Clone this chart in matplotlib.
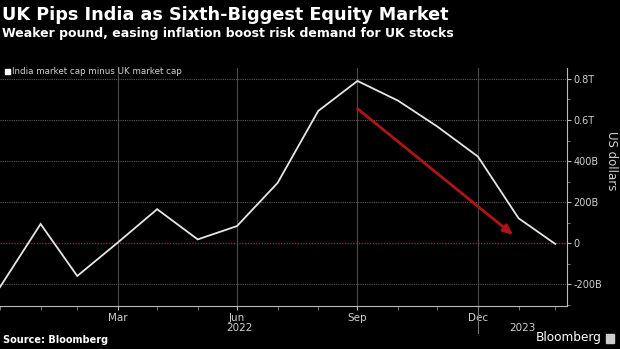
import matplotlib
matplotlib.use("Agg")
import matplotlib.pyplot as plt
import matplotlib.dates as mdates
import pandas as pd
import numpy as np
from matplotlib.ticker import FixedLocator, MultipleLocator, FuncFormatter

# ---- data ----
dates = pd.date_range("2021-12-31", periods=15, freq="ME")
diff_b = [-213, 94, -159, 4, 166, 19, 84, 294, 644, 790, 694, 568, 422, 122, -3]  # US$ billions
month_ticks = pd.to_datetime(["2022-03-31", "2022-06-30", "2022-09-30", "2022-12-31"])
month_labels = ["Mar", "Jun", "Sep", "Dec"]
y_ticks = [-200, 0, 200, 400, 600, 800]
y_labels = ["-200B", "0", "200B", "400B", "0.6T", "0.8T"]
arrow_start = (pd.Timestamp("2022-09-30"), 655)
arrow_end = (pd.Timestamp("2023-01-27"), 40)

BG = "#000000"
GRID = "#4a4a4a"
TXT = "#d0d0d0"
narrow = ["Liberation Sans Narrow", "DejaVu Sans"]

fig = plt.figure(figsize=(6.2, 3.49), dpi=100, facecolor=BG)
ax = fig.add_axes([0.0, 1 - 306 / 349, 567 / 620, (306 - 68) / 349])
ax.set_facecolor(BG)

ax.plot(dates, diff_b, color="#e6e6e6", lw=1.3, zorder=3, solid_joinstyle="miter")

ax.set_xlim(pd.Timestamp("2021-12-31"), pd.Timestamp("2023-03-09"))
ax.set_ylim(-305, 853)

# grid
for t in month_ticks:
    ax.axvline(t, color=GRID, lw=0.8, zorder=1)
for v in y_ticks:
    if v != 0:
        ax.axhline(v, color="#5a5a5a", lw=0.8, ls=(0, (1, 1)), zorder=1)
ax.axhline(0, color="#8a2a35", lw=1.0, ls=(0, (1, 1)), zorder=2)

# red arrow
ax.annotate("", xy=arrow_end, xytext=arrow_start,
            arrowprops=dict(arrowstyle="-|>,head_length=0.6,head_width=0.25",
                            color="#b01515", lw=2.0, shrinkA=0, shrinkB=0), zorder=4)

# spines
for s in ["top", "left"]:
    ax.spines[s].set_visible(False)
ax.spines["bottom"].set_color("#bbbbbb")
ax.spines["right"].set_color("#bbbbbb")
ax.spines["bottom"].set_linewidth(0.8)
ax.spines["right"].set_linewidth(0.8)

# y axis on right
ax.yaxis.tick_right()
ax.yaxis.set_major_locator(FixedLocator(y_ticks))
ax.yaxis.set_major_formatter(FuncFormatter(lambda v, p: y_labels[y_ticks.index(int(round(v)))] if int(round(v)) in y_ticks else ""))
ax.yaxis.set_minor_locator(MultipleLocator(100))
ax.tick_params(axis="y", which="major", length=3, width=0.8, colors="#bbbbbb", labelcolor=TXT, labelsize=7, pad=1.5)
ax.tick_params(axis="y", which="minor", length=2, width=0.6, colors="#888888")
for lab in ax.get_yticklabels():
    lab.set_family(narrow)
fig.text(611 / 620, 1 - 161 / 349, "US dollars", color=TXT, fontsize=8.5, rotation=270,
         family=narrow, ha="center", va="center")

# x axis
ax.xaxis.set_major_locator(FixedLocator(mdates.date2num(month_ticks)))
ax.xaxis.set_major_formatter(FuncFormatter(lambda v, p: month_labels[p] if p is not None and p < len(month_labels) else ""))
ax.xaxis.set_minor_locator(FixedLocator(mdates.date2num(dates)))
ax.tick_params(axis="x", which="major", length=3, width=0.8, colors="#bbbbbb", labelcolor=TXT, labelsize=7.5, pad=2)
ax.tick_params(axis="x", which="minor", length=3, width=0.6, colors="#888888")
for lab in ax.get_xticklabels():
    lab.set_family(narrow)

# year labels & divider
trans = ax.get_xaxis_transform()
x0 = mdates.date2num(pd.Timestamp("2021-12-31"))
xdiv = mdates.date2num(pd.Timestamp("2022-12-31"))
xend = mdates.date2num(pd.Timestamp("2023-03-09"))
ax.plot([xdiv, xdiv], [0, -27 / 238], transform=trans, color="#777777", lw=0.8, clip_on=False)
ax.text((x0 + xdiv) / 2, -22 / 238, "2022", transform=trans, ha="center", va="center",
        color=TXT, fontsize=7.5, family=narrow)
ax.text((xdiv + xend) / 2, -22 / 238, "2023", transform=trans, ha="center", va="center",
        color=TXT, fontsize=7.5, family=narrow)

# titles
fig.text(2 / 620, 1 - 15 / 349, "UK Pips India as Sixth-Biggest Equity Market", color="white",
         fontsize=12.7, fontweight="bold", ha="left", va="center")
fig.text(2 / 620, 1 - 34 / 349, "Weaker pound, easing inflation boost risk demand for UK stocks",
         color="white", fontsize=9.0, fontweight="bold", ha="left", va="center")
# legend
fig.patches.append(plt.Rectangle((5 / 620, 1 - 73.5 / 349), 5 / 620, 5 / 349, transform=fig.transFigure,
                                 color="white", figure=fig))
fig.text(12.5 / 620, 1 - 71 / 349, "India market cap minus UK market cap", color=TXT,
         fontsize=6.3, ha="left", va="center", family=narrow)
# footer
fig.text(3 / 620, 1 - 340 / 349, "Source: Bloomberg", color="white", fontsize=7, fontweight="bold",
         ha="left", va="center")
fig.text(602 / 620, 1 - 338 / 349, "Bloomberg", color="white", fontsize=8.7, ha="right", va="center")
fig.patches.append(plt.Rectangle((606 / 620, 1 - 343 / 349), 8 / 620, 9 / 349, transform=fig.transFigure,
                                 color="#cccccc", figure=fig))

fig.savefig("out.png", dpi=100, facecolor=BG)
